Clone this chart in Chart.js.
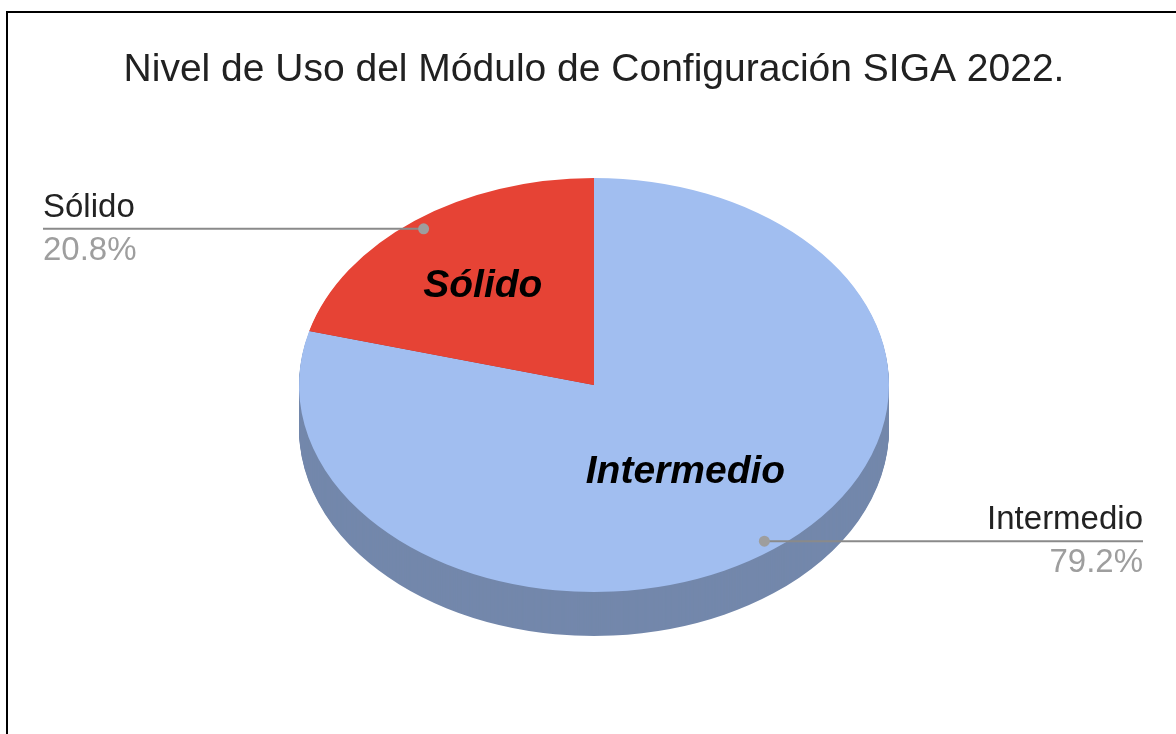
<!DOCTYPE html>
<html><head><meta charset="utf-8">
<script src="https://cdn.jsdelivr.net/npm/chart.js@4/dist/chart.umd.min.js"></script>
<style>
html,body{margin:0;padding:0;background:#fff;}
#wrap{position:relative;width:1176px;height:734px;overflow:hidden;background:#fff;}
#c{display:block;}
#frame{position:absolute;left:6px;top:11px;width:1300px;height:900px;border-left:2px solid #000;border-top:2px solid #000;pointer-events:none;}
</style></head><body>
<div id="wrap"><canvas id="c" width="1176" height="734"></canvas><div id="frame"></div></div>
<script>
// ---- data ----
const titleText = 'Nivel de Uso del Módulo de Configuración SIGA 2022.';
const categories = ['Intermedio', 'Sólido'];
const values = [79.2, 20.8];
const sliceColors = ['#a1bef0', '#e64335'];
const insideLabelRadius = [0.51, 0.62];

// ---- layout / style ----
const FONT = '"Liberation Sans", Arial, Helvetica, sans-serif';
const TILT = 207 / 295;     // vertical squash of the top face
const DEPTH = 44;           // thickness of the 3D side (px)
const LEFT_LABEL_X = 43;
const RIGHT_LABEL_X = 1143;

function tilt(ctx, cy, dy) {
  ctx.translate(0, cy * (1 - TILT) + dy);
  ctx.scale(1, TILT);
}

const pie3d = {
  id: 'pie3d',
  beforeDatasetsDraw(chart) {
    const ctx = chart.ctx;
    const arcs = chart.getDatasetMeta(0).data;
    const cy = arcs[0].y;
    ctx.save();
    ctx.filter = 'brightness(0.715)';
    for (let d = DEPTH; d >= 1; d--) {
      ctx.save();
      tilt(ctx, cy, d);
      arcs.forEach(a => a.draw(ctx));
      ctx.restore();
    }
    ctx.filter = 'none';
    tilt(ctx, cy, 0);
  },
  afterDatasetsDraw(chart) {
    const ctx = chart.ctx;
    ctx.restore();
    const meta = chart.getDatasetMeta(0);
    const total = values.reduce((s, v) => s + v, 0);
    meta.data.forEach((arc, i) => {
      const p = arc.getProps(['x', 'y', 'startAngle', 'endAngle', 'outerRadius'], true);
      const mid = (p.startAngle + p.endAngle) / 2;
      const pt = f => ({ x: p.x + Math.cos(mid) * p.outerRadius * f, y: p.y + Math.sin(mid) * p.outerRadius * f * TILT });
      // inside label
      const c = pt(insideLabelRadius[i]);
      ctx.save();
      ctx.font = 'italic bold 39px ' + FONT;
      ctx.fillStyle = '#000';
      ctx.textAlign = 'center';
      ctx.textBaseline = 'alphabetic';
      ctx.fillText(categories[i], c.x, c.y + 14);
      // leader line + dot
      const d = pt(0.95);
      const left = d.x < p.x;
      const endX = left ? LEFT_LABEL_X : RIGHT_LABEL_X;
      ctx.strokeStyle = '#8a8a8a';
      ctx.lineWidth = 2;
      ctx.beginPath();
      ctx.moveTo(d.x, d.y);
      ctx.lineTo(endX, d.y);
      ctx.stroke();
      ctx.fillStyle = '#9e9e9e';
      ctx.beginPath();
      ctx.arc(d.x, d.y, 5.5, 0, Math.PI * 2);
      ctx.fill();
      // outside texts
      ctx.font = '33px ' + FONT;
      ctx.textAlign = left ? 'left' : 'right';
      ctx.fillStyle = '#222222';
      ctx.fillText(categories[i], endX, d.y - 12);
      ctx.fillStyle = '#9e9e9e';
      ctx.fillText((values[i] / total * 100).toFixed(1) + '%', endX, d.y + 31);
      ctx.restore();
    });
  }
};

new Chart(document.getElementById('c'), {
  type: 'pie',
  data: {
    labels: categories,
    datasets: [{
      data: values,
      backgroundColor: sliceColors,
      borderWidth: 0,
      clip: false
    }]
  },
  options: {
    responsive: false,
    animation: false,
    events: [],
    devicePixelRatio: 1,
    layout: { padding: { left: 12, right: 0, top: 0, bottom: 54 } },
    plugins: {
      legend: { display: false },
      tooltip: { enabled: false },
      title: {
        display: true,
        text: titleText,
        color: '#212121',
        font: { family: FONT, size: 39, weight: 'normal', lineHeight: 1.0 },
        padding: { top: 51, bottom: 0 }
      }
    }
  },
  plugins: [pie3d]
});
</script>
</body></html>
